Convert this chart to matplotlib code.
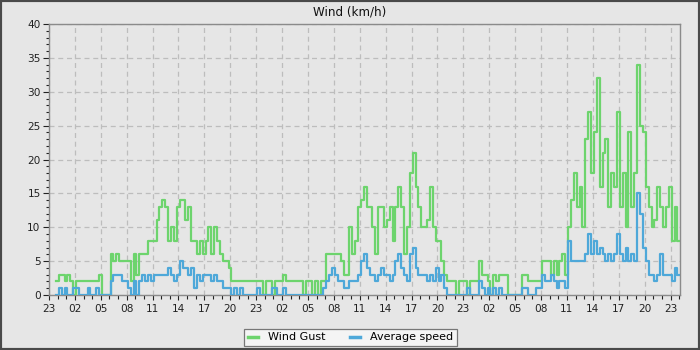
import matplotlib
matplotlib.use("Agg")
import matplotlib.pyplot as plt
from matplotlib.patches import Rectangle
from matplotlib.ticker import MultipleLocator, FixedLocator
import numpy as np

# Time axis: hours since 23:00 on day 0; samples every 20 minutes
start_hour = 0.8
step_hours = 1.0 / 3.0

wind_gust = [
    2, 3, 3, 2, 3, 2, 0, 2, 2, 2,
    2, 2, 2, 2, 2, 3, 0, 0, 0, 6,
    5, 6, 5, 5, 5, 5, 2, 6, 3, 6,
    6, 6, 8, 8, 8, 11, 13, 14, 13, 8,
    10, 8, 13, 14, 14, 11, 13, 8, 8, 6,
    8, 6, 8, 10, 6, 10, 8, 6, 5, 5,
    4, 2, 2, 2, 2, 2, 2, 2, 2, 2,
    2, 2, 0, 2, 2, 0, 2, 2, 2, 3,
    2, 2, 2, 2, 2, 2, 0, 2, 2, 0,
    2, 0, 2, 2, 6, 6, 6, 6, 6, 5,
    3, 3, 10, 6, 8, 13, 14, 16, 13, 13,
    10, 6, 13, 13, 10, 11, 13, 8, 13, 16,
    13, 6, 10, 18, 21, 16, 13, 10, 10, 11,
    16, 10, 8, 8, 5, 3, 2, 2, 2, 0,
    2, 2, 2, 0, 2, 2, 2, 5, 3, 3,
    2, 0, 3, 2, 3, 3, 3, 0, 0, 0,
    0, 0, 3, 3, 2, 2, 2, 2, 2, 5,
    5, 5, 3, 5, 3, 5, 6, 3, 10, 14,
    18, 13, 16, 10, 23, 27, 18, 24, 32, 16,
    21, 23, 13, 18, 16, 27, 13, 18, 10, 24,
    13, 18, 34, 25, 24, 16, 13, 10, 11, 16,
    13, 10, 13, 16, 8, 13, 8,
]

average_speed = [
    0, 1, 0, 1, 0, 0, 1, 1, 0, 0,
    0, 1, 0, 0, 1, 0, 0, 0, 0, 2,
    3, 3, 3, 2, 2, 1, 0, 2, 0, 2,
    3, 2, 3, 2, 3, 3, 3, 3, 3, 4,
    3, 2, 3, 5, 4, 4, 3, 4, 1, 3,
    2, 3, 3, 3, 2, 3, 2, 2, 1, 1,
    1, 0, 1, 0, 1, 0, 0, 0, 0, 0,
    1, 0, 0, 0, 0, 1, 1, 0, 0, 1,
    0, 0, 0, 0, 0, 0, 0, 0, 0, 0,
    0, 0, 0, 1, 2, 3, 4, 3, 2, 2,
    1, 1, 2, 2, 2, 3, 5, 6, 4, 3,
    3, 2, 3, 4, 3, 3, 2, 3, 5, 6,
    4, 3, 2, 6, 7, 4, 3, 3, 3, 2,
    3, 2, 4, 2, 3, 1, 0, 0, 0, 0,
    0, 0, 0, 1, 0, 0, 0, 2, 1, 0,
    1, 0, 1, 0, 1, 0, 0, 0, 0, 0,
    0, 0, 1, 1, 0, 0, 0, 1, 1, 3,
    2, 2, 3, 2, 1, 2, 2, 1, 8, 5,
    5, 5, 5, 5, 6, 9, 6, 8, 6, 7,
    6, 5, 6, 5, 6, 9, 6, 5, 7, 5,
    6, 5, 15, 12, 7, 5, 3, 3, 2, 3,
    6, 3, 3, 3, 2, 4, 3,
]

tick_labels = ["23", "02", "05", "08", "11", "14", "17", "20",
               "23", "02", "05", "08", "11", "14", "17", "20",
               "23", "02", "05", "08", "11", "14", "17", "20", "23"]

series_names = ["Wind Gust", "Average speed"]
gust_color = "#6dd46d"
avg_color = "#4ea8d9"
bg = "#e6e6e6"

n = len(wind_gust)
t = start_hour + step_hours * np.arange(n + 1)
g = np.append(wind_gust, wind_gust[-1])
a = np.append(average_speed, average_speed[-1])

plt.rcParams["font.family"] = ["DejaVu Sans"]
fig = plt.figure(figsize=(7, 3.5), dpi=100, facecolor=bg)
ax = fig.add_axes([49 / 700, 55 / 350, 631 / 700, 271 / 350])
ax.set_facecolor(bg)

ax.step(t, g, where="post", color=gust_color, lw=1.6, label=series_names[0], zorder=3)
ax.step(t, a, where="post", color=avg_color, lw=1.6, label=series_names[1], zorder=4)

xmax = 73.1
ax.set_xlim(0, xmax)
ax.set_ylim(0, 40)
ax.xaxis.set_major_locator(FixedLocator(np.arange(len(tick_labels)) * 3))
ax.set_xticklabels(tick_labels)
ax.xaxis.set_minor_locator(MultipleLocator(1))
ax.yaxis.set_major_locator(MultipleLocator(5))
ax.yaxis.set_minor_locator(MultipleLocator(1))

ax.grid(True, which="major", color="#bdbdbd", linestyle=(0, (4, 3)), linewidth=0.9, zorder=0)
ax.tick_params(axis="both", which="major", labelsize=7.6, colors="#222222", length=4, width=0.8, pad=2)
ax.tick_params(axis="x", which="minor", length=3, width=0.8, colors="#222222")
ax.tick_params(axis="y", which="minor", length=2.5, width=0.8, colors="#222222")
ax.tick_params(axis="x", which="major", length=3.5, pad=3)
for s in ax.spines.values():
    s.set_color("#8a8a8a")
    s.set_linewidth(1.0)

fig.text(0.5, 1 - 12 / 350, "Wind (km/h)", ha="center", va="center", fontsize=8.6, color="#111111")

leg = fig.legend(loc="center", bbox_to_anchor=(350.5 / 700, 1 - 337.5 / 350), ncol=2,
                 fontsize=8.0, frameon=True, fancybox=False, edgecolor="#777777",
                 facecolor="#f4f4f4", framealpha=1, handlelength=0.9, handletextpad=0.9,
                 columnspacing=2.2, borderpad=0.35)
leg.get_frame().set_linewidth(0.9)
for line in leg.get_lines():
    line.set_linewidth(2.5)

fig.patches.append(Rectangle((0, 0), 1, 1, transform=fig.transFigure, fill=False,
                             edgecolor="#4a4a4a", linewidth=3, zorder=10))

fig.savefig("out.png", dpi=100, facecolor=bg)
